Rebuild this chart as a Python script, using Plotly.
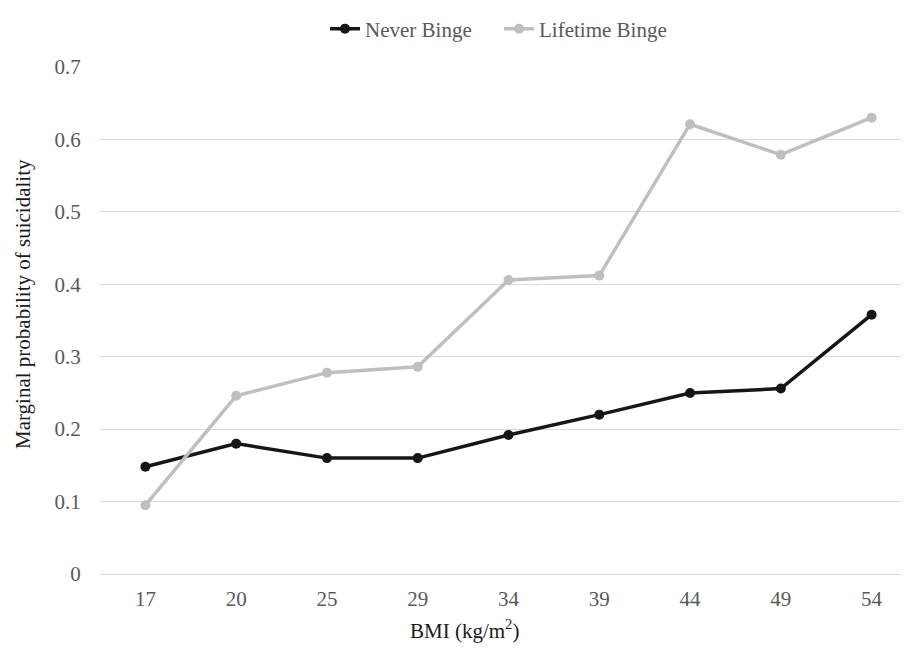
import plotly.graph_objects as go

bmi = ["17", "20", "25", "29", "34", "39", "44", "49", "54"]
never_binge = [0.148, 0.180, 0.160, 0.160, 0.192, 0.220, 0.250, 0.256, 0.358]
lifetime_binge = [0.095, 0.246, 0.278, 0.286, 0.406, 0.412, 0.621, 0.579, 0.630]
y_ticks = [0, 0.1, 0.2, 0.3, 0.4, 0.5, 0.6, 0.7]

FONT = "Liberation Serif, Times New Roman, serif"
FS = 21

fig = go.Figure()
fig.add_trace(go.Scatter(
    x=bmi, y=never_binge, name="Never Binge", mode="lines+markers",
    line=dict(color="#161616", width=3.5),
    marker=dict(color="#161616", size=10),
))
fig.add_trace(go.Scatter(
    x=bmi, y=lifetime_binge, name="Lifetime Binge", mode="lines+markers",
    line=dict(color="#bfbfbf", width=3.5),
    marker=dict(color="#bfbfbf", size=10),
))

fig.add_annotation(
    text="BMI (kg/m<sup>2</sup>)", xref="paper", yref="paper",
    x=(464 - 100) / 817, y=-(631 - 574) / 522, xanchor="center", yanchor="middle",
    showarrow=False, font=dict(family=FONT, size=FS, color="#1a1a1a"),
)
fig.add_annotation(
    text="Marginal probability of suicidality", xref="paper", yref="paper",
    x=(23 - 100) / 817, y=(574 - 296) / 522, xanchor="center", yanchor="middle",
    textangle=-90, showarrow=False, font=dict(family=FONT, size=FS, color="#1a1a1a"),
)

fig.update_layout(
    width=909, height=656,
    margin=dict(l=92, r=0, t=44, b=90),
    paper_bgcolor="white", plot_bgcolor="white",
    font=dict(family=FONT, size=FS, color="#595959"),
    showlegend=True,
    legend=dict(orientation="h", x=0.2754, xanchor="left", y=1.075, yanchor="middle",
                font=dict(family=FONT, size=FS, color="#595959"),
                itemwidth=30, entrywidth=129, tracegroupgap=0,
                bgcolor="rgba(0,0,0,0)"),
    xaxis=dict(
        type="category", range=[-0.5, 8.5],
        showgrid=False, zeroline=False, showline=False,
        ticks="outside", ticklen=6, tickcolor="rgba(0,0,0,0)",
        tickfont=dict(family=FONT, size=FS, color="#595959"),
        automargin=False,
    ),
    yaxis=dict(
        range=[0, 0.7], tickvals=y_ticks, ticktext=[f"{v:g}" for v in y_ticks],
        showgrid=True, gridcolor="#d9d9d9", gridwidth=1,
        zeroline=True, zerolinecolor="#d9d9d9", zerolinewidth=1,
        showline=False,
        ticks="outside", ticklen=14, tickcolor="rgba(0,0,0,0)",
        tickfont=dict(family=FONT, size=FS, color="#595959"),
        automargin=False,
    ),
)

fig.write_html("out.html")
